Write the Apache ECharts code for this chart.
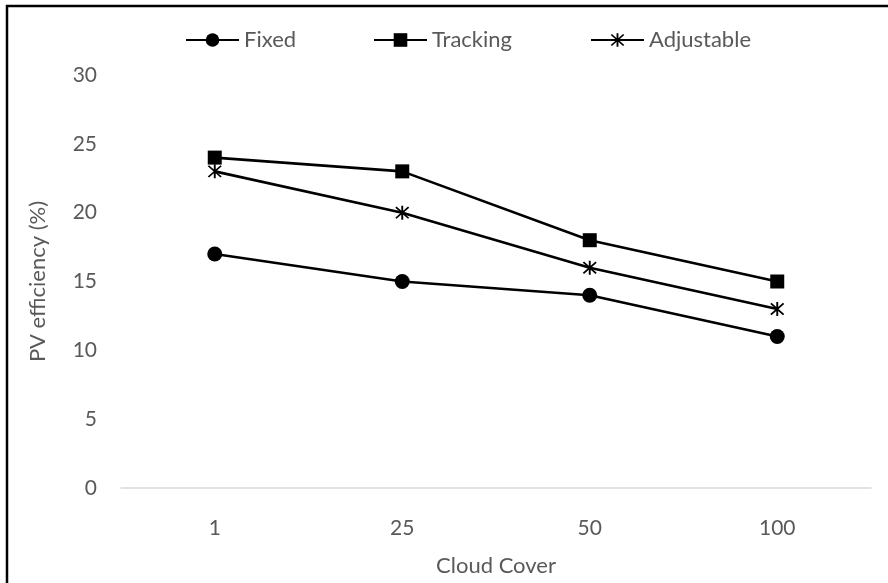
<!DOCTYPE html>
<html>
<head>
<meta charset="utf-8">
<script src="https://cdn.jsdelivr.net/npm/echarts@6/dist/echarts.min.js"></script>
<style>
  html, body { margin: 0; padding: 0; background: #fff; }
  #chart { width: 888px; height: 583px; }
</style>
</head>
<body>
<div id="chart"></div>
<script>
// Cloud cover categories and PV efficiency (%) per mounting type
var cloudCover = ['1', '25', '50', '100'];
var fixed = [17, 15, 14, 11];
var tracking = [24, 23, 18, 15];
var adjustable = [23, 20, 16, 13];
var seriesNames = ['Fixed', 'Tracking', 'Adjustable'];
var yTicks = { min: 0, max: 30, interval: 5 };

// asterisk marker built from three thin bars
var asterisk = 'path://M4.4 0 L5.6 0 L5.6 10 L4.4 10 Z ' +
  'M0.6 1.4 L1.4 0.6 L9.4 8.6 L8.6 9.4 Z ' +
  'M8.6 0.6 L9.4 1.4 L1.4 9.4 L0.6 8.6 Z';

var FONT = 'Lato';
var TXT = '#595959';

function lineSeries(name, data, symbol, size) {
  return {
    name: name,
    type: 'line',
    data: data,
    symbol: symbol,
    symbolSize: size,
    showAllSymbol: true,
    lineStyle: { color: '#000', width: 2.6 },
    itemStyle: { color: '#000', borderWidth: 0 },
    emphasis: { disabled: true },
    animation: false
  };
}

// one legend entry per slot, spread across the top
var legendLeft = [180, 368, 585];
var legends = seriesNames.map(function (n, i) {
  return {
    top: 24,
    left: legendLeft[i],
    itemWidth: 53,
    itemHeight: 17,
    itemGap: 4,
    textStyle: { color: TXT, fontSize: 22, fontFamily: FONT },
    data: [n]
  };
});

var chart = echarts.init(document.getElementById('chart'), null, { renderer: 'canvas' });
chart.setOption({
  backgroundColor: '#fff',
  textStyle: { fontFamily: FONT },
  graphic: [{
    type: 'rect',
    shape: { x: 7, y: 6, width: 900, height: 600 },
    style: { fill: 'none', stroke: '#000', lineWidth: 2.5 },
    silent: true
  }],
  legend: legends,
  grid: { left: 121, right: 17, top: 75, bottom: 95, containLabel: false },
  xAxis: {
    type: 'category',
    data: cloudCover,
    boundaryGap: true,
    name: 'Cloud Cover',
    nameLocation: 'middle',
    nameGap: 67,
    nameTextStyle: { color: TXT, fontSize: 22, fontFamily: FONT },
    axisLine: { show: true, lineStyle: { color: '#d9d9d9', width: 1.5 } },
    axisTick: { show: false },
    axisLabel: { color: TXT, fontSize: 21, margin: 30, fontFamily: FONT },
    splitLine: { show: false }
  },
  yAxis: {
    type: 'value',
    min: yTicks.min,
    max: yTicks.max,
    interval: yTicks.interval,
    name: 'PV efficiency (%)',
    nameLocation: 'middle',
    nameGap: 72,
    nameTextStyle: { color: TXT, fontSize: 22, fontFamily: FONT },
    axisLine: { show: false },
    axisTick: { show: false },
    axisLabel: { color: TXT, fontSize: 21, margin: 24, fontFamily: FONT },
    splitLine: { show: false }
  },
  series: [
    lineSeries(seriesNames[0], fixed, 'circle', 15),
    lineSeries(seriesNames[1], tracking, 'rect', 14),
    lineSeries(seriesNames[2], adjustable, asterisk, 14)
  ]
});
</script>
</body>
</html>
